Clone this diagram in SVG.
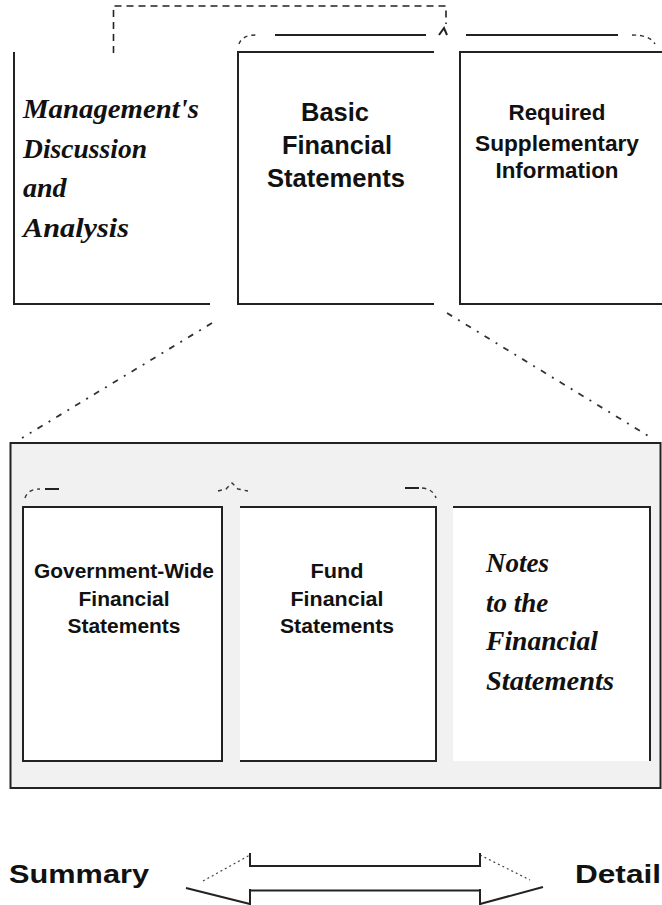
<svg xmlns="http://www.w3.org/2000/svg" width="662" height="905" viewBox="0 0 662 905">
<defs>
<style>
.ln{stroke:#222;stroke-width:2;fill:none}
.dash{stroke:#222;stroke-width:1.6;fill:none;stroke-dasharray:7,5}
.dd{stroke:#333;stroke-width:1.8;fill:none;stroke-dasharray:6,7,2,7}
.fine{stroke:#333;stroke-width:1.4;fill:none;stroke-dasharray:4,4}
.sans{font-family:"Liberation Sans",Arial,sans-serif;font-weight:bold;fill:#111;text-anchor:middle}
.script{font-family:"Liberation Serif","DejaVu Serif",serif;font-style:italic;font-weight:bold;fill:#111}
</style>
</defs>
<rect width="662" height="905" fill="#fff"/>

<g id="connectors">
  <path class="dash" d="M113.5,53 L113.5,6 L446,6 L446,24"/>
  <path class="fine" d="M239,44 Q242,35 256,35"/>
  <path class="ln" d="M275,35 L426,35"/>
  <path class="ln" stroke-width="1.4" d="M439,35 L444,28 L447,35"/>
  <path class="ln" d="M466,35 L618,35"/>
  <path class="fine" d="M632,35 Q650,35 655,44"/>
  <path class="dd" d="M212,323 L22,438"/>
  <path class="dd" d="M447,313 L650,437"/>
  <path class="dash" d="M232,480 L232,457 L552,457 L552,507"/>
</g>

<g id="mdna">
  <path class="ln" d="M14,52 L14,304 L210,304"/>
  <text class="script" font-size="28" x="23" y="118" textLength="176" lengthAdjust="spacingAndGlyphs">Management's</text>
  <text class="script" font-size="28" x="23" y="158" textLength="124" lengthAdjust="spacingAndGlyphs">Discussion</text>
  <text class="script" font-size="28" x="23" y="197">and</text>
  <text class="script" font-size="28" x="23" y="237" textLength="106" lengthAdjust="spacingAndGlyphs">Analysis</text>
</g>

<g id="basic">
  <path class="ln" d="M434,52 L238,52 L238,304 L434,304"/>
  <text class="sans" font-size="25" x="335" y="121" textLength="68" lengthAdjust="spacingAndGlyphs">Basic</text>
  <text class="sans" font-size="25" x="337" y="154" textLength="110" lengthAdjust="spacingAndGlyphs">Financial</text>
  <text class="sans" font-size="25" x="336" y="187" textLength="138" lengthAdjust="spacingAndGlyphs">Statements</text>
</g>

<g id="rsi">
  <path class="ln" d="M662,52 L460,52 L460,304 L662,304"/>
  <text class="sans" font-size="22" x="557" y="120" textLength="97" lengthAdjust="spacingAndGlyphs">Required</text>
  <text class="sans" font-size="22" x="557" y="151" textLength="164" lengthAdjust="spacingAndGlyphs">Supplementary</text>
  <text class="sans" font-size="22" x="557" y="178" textLength="123" lengthAdjust="spacingAndGlyphs">Information</text>
</g>

<g id="basic-detail">
  <rect x="10.5" y="443" width="650" height="345" fill="#f1f1f1" stroke="#222" stroke-width="2"/>
  <path class="fine" d="M25,498 Q28,489 40,489"/>
  <path class="ln" stroke-width="1.6" d="M45,489 L59,489"/>
  <path class="fine" d="M218,491 L226,489 L232,483 L238,489 L248,491"/>
  <path class="ln" stroke-width="1.6" d="M405,488 L419,488"/>
  <path class="fine" d="M422,488 Q433,489 436,498"/>
</g>

<g id="govwide">
  <rect x="23" y="507" width="199" height="254" fill="#fff" stroke="#222" stroke-width="2"/>
  <text class="sans" font-size="20" x="124" y="578" textLength="180" lengthAdjust="spacingAndGlyphs">Government-Wide</text>
  <text class="sans" font-size="20" x="124" y="606" textLength="91" lengthAdjust="spacingAndGlyphs">Financial</text>
  <text class="sans" font-size="20" x="124" y="633" textLength="113" lengthAdjust="spacingAndGlyphs">Statements</text>
</g>

<g id="fund">
  <rect x="240" y="507" width="196" height="254" fill="#fff"/>
  <path class="ln" d="M240,507 L436,507 L436,761 L240,761"/>
  <text class="sans" font-size="21" x="337" y="578" textLength="53" lengthAdjust="spacingAndGlyphs">Fund</text>
  <text class="sans" font-size="20" x="337" y="606" textLength="93" lengthAdjust="spacingAndGlyphs">Financial</text>
  <text class="sans" font-size="20" x="337" y="633" textLength="114" lengthAdjust="spacingAndGlyphs">Statements</text>
</g>

<g id="notes">
  <rect x="453" y="507" width="197" height="254" fill="#fff"/>
  <path class="ln" d="M453,507 L650,507 L650,761"/>
  <text class="script" font-size="27" x="486" y="572">Notes</text>
  <text class="script" font-size="27" x="486" y="612">to the</text>
  <text class="script" font-size="27" x="486" y="650" textLength="112" lengthAdjust="spacingAndGlyphs">Financial</text>
  <text class="script" font-size="27" x="486" y="690" textLength="128" lengthAdjust="spacingAndGlyphs">Statements</text>
</g>

<g id="scale">
  <text class="sans" font-size="26" x="79" y="883" textLength="140" lengthAdjust="spacingAndGlyphs">Summary</text>
  <text class="sans" font-size="26" x="618" y="883" textLength="86" lengthAdjust="spacingAndGlyphs">Detail</text>
  <path stroke="#444" stroke-width="1.2" fill="none" stroke-dasharray="2,3" d="M203,881 L250,855"/>
  <path stroke="#444" stroke-width="1.2" fill="none" stroke-dasharray="2,3" d="M480,855 L530,880"/>
  <path class="ln" stroke-width="1.8" d="M250,853 L250,866 L480,866 L480,853"/>
  <path class="ln" stroke-width="4" d="M250,890.5 L480,890.5"/>
  <path class="ln" stroke-width="2.4" d="M250,889 L250,905 M480,889 L480,905"/>
  <path class="ln" stroke-width="2.6" d="M186,888 L250,904 M480,904 L543,887"/>
</g>
</svg>
